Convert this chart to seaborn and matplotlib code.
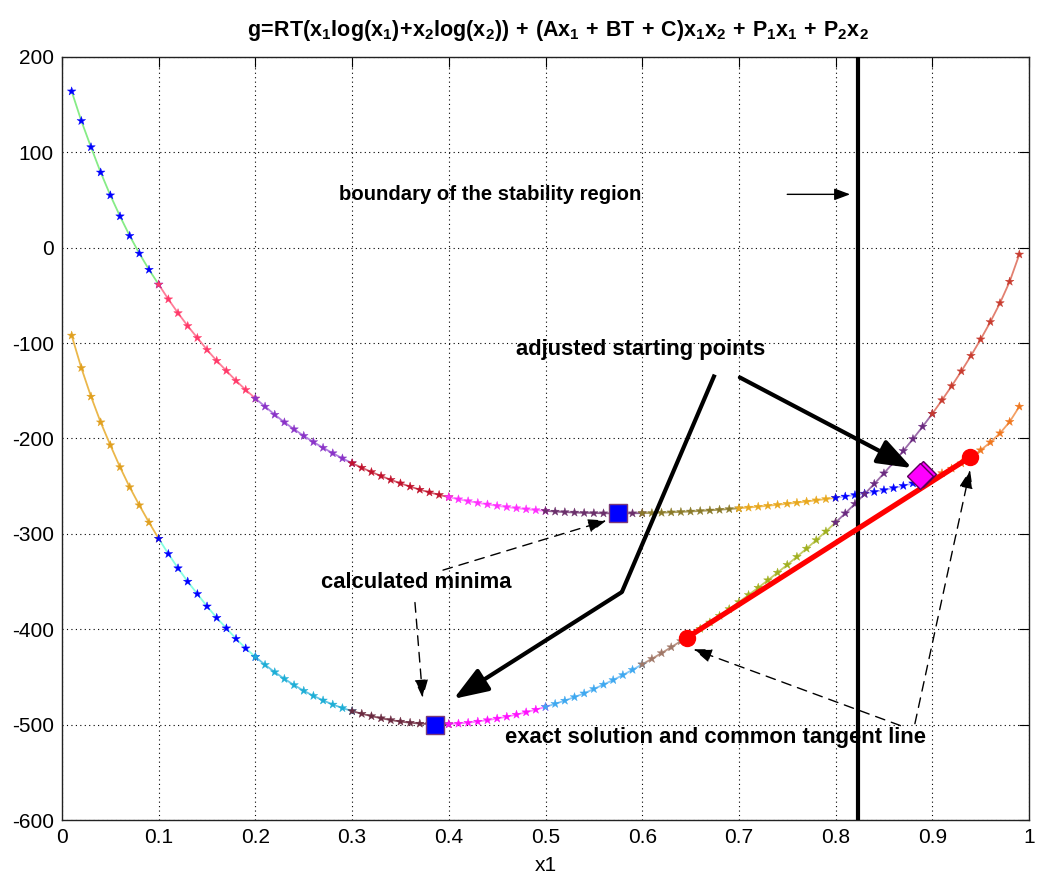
import numpy as np
import pandas as pd
import matplotlib
matplotlib.use("Agg")
import matplotlib.pyplot as plt
import seaborn as sns

# ---------------- data ----------------
x_grid = np.arange(1, 100) / 100  # sample points 0.01 ... 0.99

g_upper = [164, 133, 105.5, 79, 55, 33, 12.5, -6, -23, -38.5,
           -54, -68.5, -82, -94.5, -107, -118.5, -129, -139.5, -149, -158,
           -166.5, -175, -183, -190.3, -197.2, -203.7, -209.7, -215.4, -220.8, -225.9,
           -230.6, -235.1, -239.3, -243.3, -247, -250.4, -253.6, -256.5, -259.1, -261.5,
           -263.7, -265.7, -267.5, -269.1, -270.6, -271.9, -273.1, -274.2, -275.1, -275.9,
           -276.6, -277.2, -277.6, -278, -278.2, -278.4, -278.5, -278.5, -278.4, -278.3,
           -278.1, -277.8, -277.4, -277, -276.5, -276, -275.4, -274.7, -274, -273.2,
           -272.4, -271.5, -270.5, -269.5, -268.4, -267.3, -266.1, -264.8, -263.5, -262.2,
           -260.8, -259.3, -257.7, -256, -254.1, -252, -249.6, -247, -244, -240.5,
           -236.3, -231.5, -226, -219.6, -212.3, -204, -194.5, -182.5, -166.5]

g_lower = [-92, -126, -156, -183, -207, -230, -251, -270, -288, -305,
           -321, -336, -350, -363, -376, -388, -399, -410, -420, -429,
           -437.3, -445, -452, -458.5, -464.5, -469.8, -474.6, -478.9, -482.6, -485.8,
           -488.6, -491.1, -493.3, -495.2, -496.8, -498, -498.9, -499.5, -499.7, -499.5,
           -498.9, -498, -496.8, -495.3, -493.6, -491.7, -489.5, -487, -484.3, -481.4,
           -478.2, -474.8, -471.1, -467.2, -462.6, -458, -453.2, -448, -442.5, -436.8,
           -431, -425, -418.8, -412.4, -406, -399.5, -392.8, -385.9, -378.8, -371.5,
           -364, -356.4, -348.6, -340.6, -332.4, -324, -315.4, -306.5, -297.4, -288,
           -278.4, -268.5, -258.2, -247.5, -236.5, -225, -213, -200.5, -187.5, -174,
           -159.8, -145, -129.5, -113.2, -96, -77.8, -58, -35.5, -7]

upper_breaks = [0.01, 0.10, 0.20, 0.30, 0.40, 0.50, 0.60, 0.70, 0.80, 0.89, 0.99]
lower_breaks = [0.01, 0.10, 0.20, 0.30, 0.40, 0.50, 0.60, 0.65, 0.80, 0.90, 0.99]

upper_line_colors = ["#86ec86", "#ff7d98", "#b07ce0", "#d66070", "#ff8cff",
                     "#8e5c8e", "#aa9c5c", "#f2c25e", "#b4b4ff", "#f4a064"]
upper_marker_colors = ["#0000ff", "#ff3a6a", "#8a34c8", "#c0122c", "#ff2eff",
                       "#6b2f6b", "#8a7a2a", "#e8a81e", "#0000ff", "#f07820"]
lower_line_colors = ["#ebb74a", "#86ffe2", "#62c6e6", "#8c5262", "#ff84ff",
                     "#84c8f8", "#bb9484", "#c4cc62", "#9c6caa", "#e28070"]
lower_marker_colors = ["#e0a020", "#0000ff", "#1eaed6", "#6a2a40", "#ff10ff",
                       "#3ea8f0", "#a07868", "#a0b020", "#6a2a80", "#c83c30"]

minima_x = [0.386, 0.575]
minima_g = [-500, -278]
tangent_x = [0.646, 0.939]
tangent_g = [-409, -219.6]
start_x = [0.887]
start_g = [-239]
boundary_x = 0.823

title_text = (r"$\mathrm{g\!=\!RT(x_1log(x_1)\!+\!x_2log(x_2))\,+\,(Ax_1\,+\,BT\,+\,C)"
              r"x_1x_2\,+\,P_1x_1\,+\,P_2x_2}$")

# ---------------- build table ----------------
frames = []
line_pal, mark_pal = {}, {}
for name, g, breaks, lc, mc in [("U", g_upper, upper_breaks, upper_line_colors, upper_marker_colors),
                                ("L", g_lower, lower_breaks, lower_line_colors, lower_marker_colors)]:
    g = np.asarray(g, dtype=float)
    for k in range(len(breaks) - 1):
        m = (x_grid >= breaks[k] - 1e-9) & (x_grid <= breaks[k + 1] + 1e-9)
        seg = f"{name}{k}"
        frames.append(pd.DataFrame({"x": x_grid[m], "g": g[m], "seg": seg}))
        line_pal[seg] = lc[k]
        mark_pal[seg] = mc[k]
df = pd.concat(frames, ignore_index=True)

# ---------------- style ----------------
sns.set_style("white")
plt.rcParams["font.family"] = ["Liberation Sans", "DejaVu Sans"]
plt.rcParams["axes.unicode_minus"] = False
plt.rcParams["text.color"] = "black"
plt.rcParams["axes.labelcolor"] = "black"
plt.rcParams["mathtext.fontset"] = "custom"
plt.rcParams["mathtext.rm"] = "Liberation Sans:bold"
plt.rcParams["mathtext.it"] = "Liberation Sans:bold"
plt.rcParams["mathtext.bf"] = "Liberation Sans:bold"

fig = plt.figure(figsize=(10.37, 8.88), dpi=100)
ax = fig.add_axes([62 / 1037, 68 / 888, 967 / 1037, 763 / 888])

sns.lineplot(data=df, x="x", y="g", hue="seg", palette=line_pal, estimator=None,
             sort=False, legend=False, linewidth=1.3, ax=ax, zorder=2)
sns.scatterplot(data=df, x="x", y="g", hue="seg", palette=mark_pal, marker="*",
                s=42, linewidth=0.3, edgecolor=None, legend=False, ax=ax, zorder=3)

# boundary line
ax.axvline(boundary_x, color="black", lw=3, zorder=4)

# common tangent
ax.plot(tangent_x, tangent_g, color="#ff0000", lw=3.8, zorder=5, solid_capstyle="round")
ax.plot(tangent_x, tangent_g, "o", color="#ff0000", ms=11.5, zorder=6)

# minima squares
ax.plot(minima_x, minima_g, "s", ms=12.5, mfc="#0000ff", mec="#7a3a7a", mew=1, zorder=6)

# adjusted starting point diamond (double outline)
ax.plot([start_x[0] + 0.003], [start_g[0] + 2], "D", ms=13, mfc="#ff00ff", mec="#5a005a", mew=1, zorder=6)
ax.plot(start_x, start_g, "D", ms=13, mfc="#ff00ff", mec="#5a005a", mew=1, zorder=6)

# ---------------- annotations ----------------
tfont = dict(fontweight="bold", ha="center", va="center", zorder=8, color="black")
ax.text(0.4426, 56, "boundary of the stability region", fontsize=14.6, **tfont)
ax.text(0.598, -107, "adjusted starting points", fontsize=15.8, **tfont)
ax.text(0.366, -351, "calculated minima", fontsize=15.8, **tfont)
ax.text(0.676, -514, "exact solution and common tangent line", fontsize=15.8, **tfont)

ax.annotate("", xy=(0.815, 56), xytext=(0.750, 56),
            arrowprops=dict(arrowstyle="-|>,head_length=0.8,head_width=0.3", lw=1,
                            color="black", mutation_scale=12, shrinkA=0, shrinkB=0), zorder=7)

thick = dict(arrowstyle="-|>,head_length=0.6,head_width=0.22", lw=3, color="black",
             mutation_scale=35, shrinkA=0, shrinkB=0)
ax.plot([0.675, 0.579], [-133, -361], color="black", lw=3, zorder=7, solid_capstyle="butt")
ax.annotate("", xy=(0.405, -473), xytext=(0.579, -361), arrowprops=thick, zorder=7)
ax.annotate("", xy=(0.879, -231), xytext=(0.701, -136), arrowprops=thick, zorder=7)

dashed = dict(arrowstyle="-|>,head_length=0.8,head_width=0.3", lw=1, color="black",
              linestyle=(0, (7, 5)), mutation_scale=14, shrinkA=0, shrinkB=0)
ax.annotate("", xy=(0.563, -286), xytext=(0.394, -338), arrowprops=dashed, zorder=7)
ax.annotate("", xy=(0.373, -472), xytext=(0.365, -372), arrowprops=dashed, zorder=7)
ax.annotate("", xy=(0.653, -421), xytext=(0.867, -501), arrowprops=dashed, zorder=7)
ax.annotate("", xy=(0.939, -233), xytext=(0.882, -499), arrowprops=dashed, zorder=7)

# ---------------- axes ----------------
ax.set_xlim(0, 1)
ax.set_ylim(-600, 200)
xt = np.round(np.arange(0, 1.01, 0.1), 1)
ax.set_xticks(xt)
ax.set_xticklabels(["0" if v == 0 else ("1" if v == 1 else f"{v:.1f}") for v in xt])
ax.set_yticks(np.arange(-600, 201, 100))
ax.tick_params(direction="in", length=7, width=0.8, top=True, right=True,
               labelsize=15, pad=6, colors="black")
ax.grid(True, color="black", linestyle=(0, (1, 3)), linewidth=0.8)
for s in ax.spines.values():
    s.set_color("#222222")
    s.set_linewidth(1)
ax.set_xlabel("x1", fontsize=15, labelpad=6)
ax.set_ylabel("")

fig.text(0.538, 0.966, title_text, fontsize=15.5, ha="center", va="center")

fig.savefig("out.png", dpi=100, facecolor="white")
